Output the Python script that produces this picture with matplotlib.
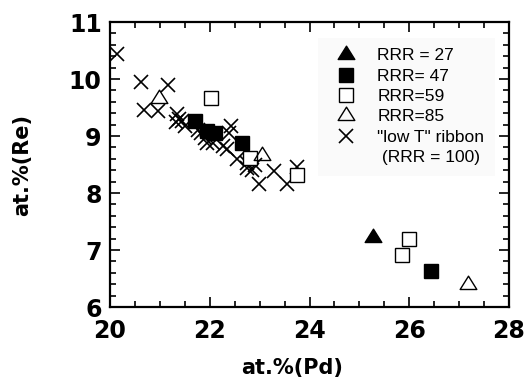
import matplotlib
matplotlib.use('Agg')
import matplotlib.pyplot as plt
from matplotlib.lines import Line2D
from matplotlib.path import Path
from matplotlib.ticker import MultipleLocator

# RRR = 27, filled triangle
pd27 = [25.28]
re27 = [7.22]
# RRR = 47, filled squares
pd47 = [21.70, 21.95, 22.10, 22.64, 26.44]
re47 = [9.27, 9.09, 9.06, 8.88, 6.64]
# RRR = 59, open squares
pd59 = [22.02, 22.80, 23.75, 26.00, 25.85]
re59 = [9.66, 8.62, 8.31, 7.20, 6.92]
# RRR = 85, open triangles
pd85 = [20.98, 23.04, 27.18]
re85 = [9.66, 8.67, 6.40]
# "low T" ribbon, crosses
pd_rib = [20.15, 20.63, 21.16, 20.69, 20.96, 21.35, 21.38, 21.33, 21.45, 21.50,
          21.77, 21.83, 21.90, 21.94, 22.07, 22.27, 22.42, 22.38, 22.34, 22.54,
          22.74, 22.84, 22.74, 22.91, 23.28, 22.98, 23.55, 23.75]
re_rib = [10.43, 9.95, 9.89, 9.46, 9.43, 9.38, 9.30, 9.24, 9.27, 9.17,
          9.11, 9.05, 8.97, 8.88, 8.88, 8.82, 9.18, 9.05, 8.77, 8.59,
          8.53, 8.41, 8.44, 8.50, 8.38, 8.15, 8.15, 8.45]

labels = ['RRR = 27', 'RRR= 47', 'RRR=59', 'RRR=85', '"low T" ribbon', ' (RRR = 100)']

# flatter triangle than matplotlib's '^'
tri = Path([(-1, -0.6), (1, -0.6), (0, 1.0), (-1, -0.6)],
           [Path.MOVETO, Path.LINETO, Path.LINETO, Path.CLOSEPOLY])

fig = plt.figure(figsize=(5.32, 3.86), dpi=100)
ax = fig.add_axes([110 / 532, 79 / 386, 399 / 532, 285 / 386])

h_rib, = ax.plot(pd_rib, re_rib, linestyle='none', marker='x', ms=10.5, mew=1.2, color='black')
h27, = ax.plot(pd27, re27, linestyle='none', marker=tri, ms=12, color='black')
h47, = ax.plot(pd47, re47, linestyle='none', marker='s', ms=10, color='black')
h59, = ax.plot(pd59, re59, linestyle='none', marker='s', ms=9.5, mfc='white', mec='black', mew=1.0)
h85, = ax.plot(pd85, re85, linestyle='none', marker=tri, ms=12, mfc='none', mec='black', mew=1.0)
blank = Line2D([], [], linestyle='none')

ax.set_xlim(20, 28)
ax.set_ylim(6, 11)
ax.xaxis.set_major_locator(MultipleLocator(2))
ax.xaxis.set_minor_locator(MultipleLocator(0.5))
ax.yaxis.set_major_locator(MultipleLocator(1))
ax.yaxis.set_minor_locator(MultipleLocator(0.2))
ax.tick_params(which='both', direction='in', top=True, right=True, width=1.2)
ax.tick_params(which='major', length=7)
ax.tick_params(which='minor', length=4)
ax.tick_params(axis='x', which='major', pad=9)
ax.tick_params(axis='y', which='major', pad=6)
for lab in ax.get_xticklabels() + ax.get_yticklabels():
    lab.set_fontfamily('DejaVu Sans')
    lab.set_fontweight('bold')
    lab.set_fontsize(17)
for sp in ax.spines.values():
    sp.set_linewidth(1.6)

ax.set_xlabel('at.%(Pd)', fontsize=15, fontweight='bold', family='DejaVu Sans')
ax.set_ylabel('at.%(Re)', fontsize=15, fontweight='bold', family='DejaVu Sans')
ax.xaxis.set_label_coords((292 - 110) / 399, -0.18)
ax.yaxis.set_label_coords(-0.195, 0.5)

leg = ax.legend([h27, h47, h59, h85, h_rib, blank], labels,
                loc='upper left', bbox_to_anchor=(0.5, 0.975),
                prop={'family': 'Liberation Sans', 'size': 12.5},
                labelspacing=0.3, handletextpad=0.8, handlelength=2.0,
                borderpad=0.6, frameon=True, fancybox=False)
leg.get_frame().set_facecolor('#fafafa')
leg.get_frame().set_edgecolor('none')
leg.get_frame().set_alpha(1)

fig.savefig('out.png', dpi=100)
